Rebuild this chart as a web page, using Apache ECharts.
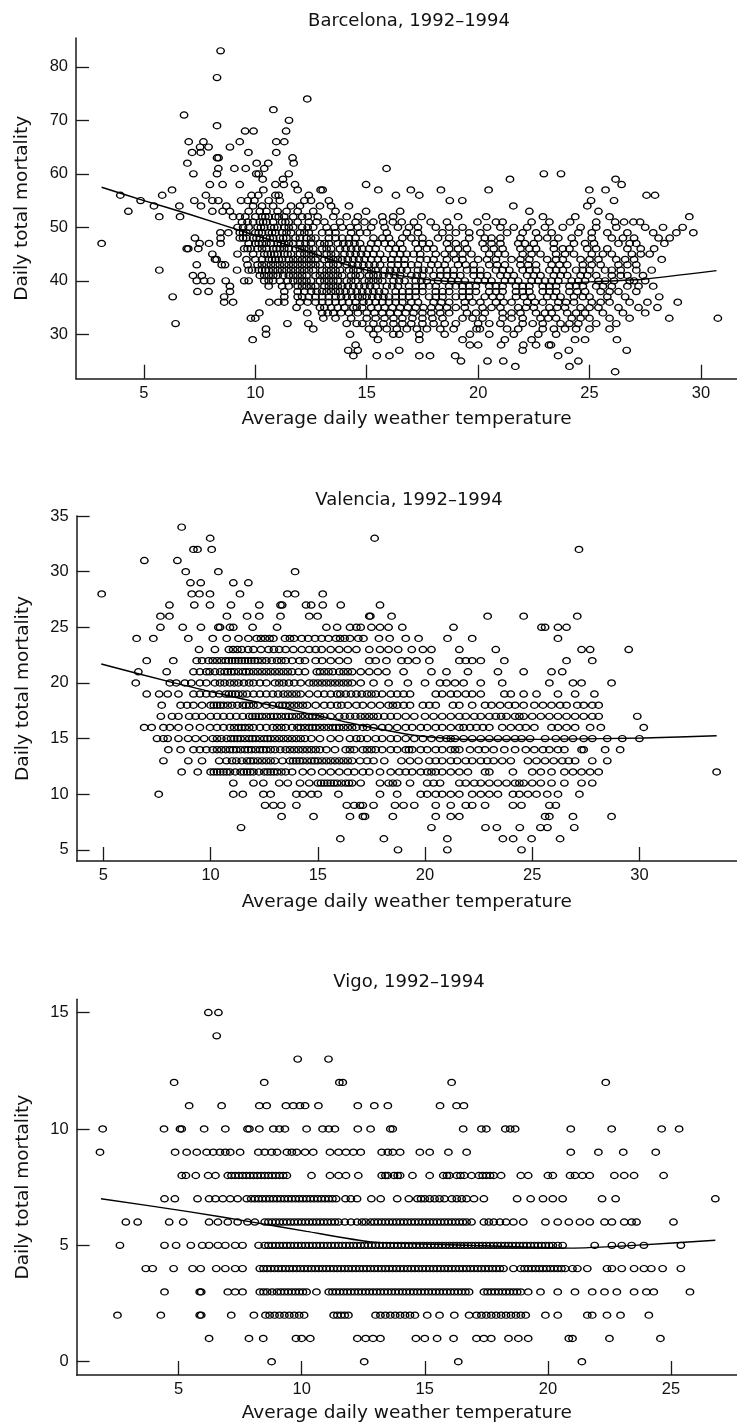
<!DOCTYPE html>
<html><head><meta charset="utf-8">
<script src="https://cdn.jsdelivr.net/npm/echarts@6/dist/echarts.min.js"></script>
<style>html,body{margin:0;padding:0;background:#fff}#c{width:737px;height:1425px}</style>
</head><body><div id="c"></div>
<script>
// ---------- titles / labels ----------
const panelTitles = ['Barcelona, 1992\u20131994', 'Valencia, 1992\u20131994', 'Vigo, 1992\u20131994'];
const xName = 'Average daily weather temperature';
const yName = 'Daily total mortality';

// ---------- tick labels ----------
const barcelonaXTicks = [5, 10, 15, 20, 25, 30];
const barcelonaYTicks = [30, 40, 50, 60, 70, 80];
const valenciaXTicks = [5, 10, 15, 20, 25, 30];
const valenciaYTicks = [5, 10, 15, 20, 25, 30, 35];
const vigoXTicks = [5, 10, 15, 20, 25];
const vigoYTicks = [0, 5, 10, 15];

// ---------- data: [daily deaths, [temperatures of the days with that count]] ----------
const barcelonaRows = [
 [83,[8.44]],[78,[8.28]],[74,[12.33]],[72,[10.81]],[71,[6.8]],[70,[11.51]],[69,[8.28]],
 [68,[9.54,9.92,11.38]],
 [66,[7.01,7.67,9.3,10.94,11.3]],
 [65,[7.52,7.9,8.86]],
 [64,[7.16,7.55,9.69,10.94]],
 [63,[8.28,8.35,11.67]],
 [62,[6.95,10.06,10.58,11.72]],
 [61,[8.34,9.06,9.57,10.4,15.89]],
 [60,[7.22,8.28,10.04,10.15,11.5,22.95,23.72]],
 [59,[10.33,11.24,21.43,26.17]],
 [58,[7.96,8.53,9.3,10.9,11.28,11.78,14.97,26.44]],
 [57,[6.26,10.36,11.9,12.93,13.02,15.52,16.98,18.33,20.47,24.99,25.72]],
 [56,[3.94,5.82,7.78,9.83,10.13,10.9,11.05,12.4,16.31,17.36,27.56,27.94]],
 [55,[4.85,7.26,8.07,8.34,9.36,9.66,9.96,10.6,11.1,12.2,12.5,13.3,18.73,19.29,25.07,26.1]],
 [54,[5.45,6.59,7.56,8.7,9.9,10.3,10.8,11.6,12.0,12.9,13.4,14.2,21.58,24.9]],
 [53,[4.3,8.07,8.53,8.86,9.7,10.2,10.5,11.0,11.4,11.9,12.6,13.6,14.97,16.5,22.3,25.4]],
 [52,[5.69,6.62,9.0,9.3,10.0,10.3,10.6,10.9,11.3,11.7,12.1,12.8,13.5,14.1,15.7,16.19,17.46,20.36,22.91,24.36,29.48,9.55,10.45,11.05,12.35,14.6,19.1,25.9]],
 [51,[9.4,9.9,10.2,10.5,10.8,11.2,11.5,11.9,12.4,13.1,13.8,14.5,15.3,15.74,16.17,16.57,17.12,17.87,19.97,21.1,22.4,24.13,26.15,26.55,26.97,27.27,9.65,10.35,11.35,12.75,14.9,18.6,20.8,23.2,25.3]],
 [50,[9.2,9.7,10.1,10.4,10.7,11.0,11.3,11.7,12.1,12.6,13.2,13.9,14.6,15.2,15.8,16.4,17.3,18.1,19.3,20.4,21.6,22.2,23.0,23.8,25.3,26.2,27.5,29.18,9.45,10.25,10.85,11.5,12.35,13.55,14.25,16.9,18.7,21.0,24.6,28.3]],
 [49,[8.43,8.79,9.3,9.6,10.0,10.3,10.6,10.9,11.2,11.6,12.0,12.4,13.0,13.6,14.3,15.0,15.9,16.8,18.4,19.0,20.1,21.3,22.0,23.3,24.5,25.8,26.7,27.86,29.66,9.45,10.15,10.75,11.4,12.2,13.3,14.7,17.3,19.6,22.6,25.1,28.9]],
 [48,[7.29,8.44,9.3,9.6,9.9,10.2,10.5,10.8,11.1,11.4,11.8,12.3,12.7,13.3,13.9,14.5,15.3,16.0,16.6,17.5,18.7,19.6,20.3,21.0,21.9,22.7,23.6,24.2,25.1,26.0,27.0,28.1,9.45,10.05,10.65,11.25,12.0,12.5,13.6,14.2,15.7,17.0,18.2,20.6,23.1,26.5,28.6]],
 [47,[3.1,7.5,7.92,8.44,10.0,10.3,10.7,11.0,11.3,11.7,12.0,12.5,12.9,13.3,13.7,14.2,14.7,15.2,15.8,16.5,17.2,17.8,18.6,19.4,20.2,21.0,21.8,22.5,23.4,24.3,25.2,26.3,27.1,28.36,9.7,10.15,10.5,11.15,11.5,12.25,13.1,13.95,14.45,15.5,16.1,17.5,19.0,20.6,22.1,24.8,26.8]],
 [46,[6.92,6.99,7.44,9.5,9.8,10.1,10.5,10.8,11.1,11.5,11.8,12.2,12.6,13.0,13.4,13.8,14.3,14.8,15.4,16.0,16.6,17.3,18.0,18.7,19.5,20.3,21.1,21.9,22.6,23.4,24.1,24.9,25.8,26.7,27.9,9.65,10.3,10.95,11.3,12.0,12.4,13.2,14.05,14.55,15.1,16.3,17.7,19.1,20.7,22.3,23.8,25.3,27.3]],
 [45,[8.07,9.2,10.4,10.7,11.0,11.3,11.6,12.0,12.4,12.8,13.2,13.6,14.0,14.5,15.0,15.6,16.2,16.8,17.4,18.1,18.9,19.7,20.5,21.2,22.0,22.8,23.5,24.3,25.1,26.0,26.9,27.7,9.9,10.55,10.85,11.45,12.2,12.6,13.4,14.25,14.75,15.3,16.5,17.1,18.5,19.3,20.9,22.4,23.9,25.6,27.3]],
 [44,[8.19,8.26,9.6,10.0,10.6,10.9,11.2,11.5,11.9,12.3,12.7,13.1,13.5,13.9,14.4,14.9,15.5,16.1,16.7,17.4,18.0,18.6,19.3,20.0,20.8,21.5,22.3,23.1,23.8,24.6,25.4,26.2,27.0,28.24,10.3,10.75,11.05,11.7,12.1,12.5,13.3,13.7,14.15,14.65,15.2,15.8,16.4,17.7,19.0,20.4,21.9,23.5,25.0,26.6]],
 [43,[7.37,8.49,8.64,9.65,10.1,10.5,10.9,11.3,11.7,12.1,12.5,12.9,13.3,13.7,14.1,14.6,15.1,15.6,16.1,16.7,17.3,17.9,18.5,19.1,19.8,20.5,21.2,21.9,22.6,23.3,24.0,24.7,25.5,26.3,27.1,10.3,10.7,11.1,11.5,11.9,12.3,12.7,13.5,14.35,14.85,15.35,16.4,17.0,18.2,19.45,20.85,22.25,23.65,25.1,26.7]],
 [42,[5.69,9.18,9.7,9.85,10.3,10.6,11.0,11.4,11.8,12.2,12.6,13.0,13.4,13.8,14.2,14.6,15.0,15.4,15.8,16.3,16.8,17.3,17.8,18.3,18.9,19.5,20.1,20.8,21.4,22.0,22.6,23.2,23.8,24.4,25.0,25.7,26.4,27.1,27.79,10.15,10.45,10.8,11.2,11.6,12.0,12.4,13.2,13.6,14.4,15.2,16.05,16.55,17.55,18.6,19.8,21.1,22.3,23.5,24.7,26.0]],
 [41,[7.2,7.6,10.2,10.6,11.0,11.5,11.9,12.3,12.7,13.1,13.5,13.9,14.3,14.7,15.1,15.5,16.0,16.5,17.0,17.5,18.0,18.6,19.2,19.8,20.4,21.0,21.6,22.2,22.8,23.4,24.0,24.6,25.3,26.0,26.7,27.4,10.4,10.8,11.25,11.7,12.1,12.9,13.3,13.7,14.5,15.3,15.75,16.25,17.25,18.3,18.9,20.1,21.3,22.5,23.7,24.9,26.4]],
 [40,[7.37,7.7,8.0,8.67,9.5,9.7,10.4,10.8,11.7,12.1,12.5,12.9,13.3,13.7,14.1,14.5,14.9,15.3,15.7,16.2,16.7,17.2,17.7,18.2,18.8,19.4,20.0,20.6,21.2,21.8,22.4,23.0,23.6,24.2,24.8,25.4,26.1,26.8,27.5,10.6,11.1,11.45,11.9,12.3,13.1,13.5,14.3,15.1,15.5,16.45,17.45,18.5,19.1,20.3,21.5,22.7,23.3,24.5,25.7,27.0]],
 [39,[8.86,10.6,11.2,11.9,12.3,12.7,13.1,13.5,13.9,14.4,14.9,15.4,15.9,16.4,16.9,17.5,18.1,18.7,19.3,19.9,20.5,21.1,21.7,22.3,22.9,23.5,24.1,24.7,25.3,26.0,26.7,27.86,11.5,12.1,12.5,13.3,13.7,14.15,14.65,15.15,16.15,17.2,17.8,19.0,19.6,20.8,22.0,23.2,24.4,25.6,27.2]],
 [38,[7.4,7.9,8.86,11.3,11.9,12.5,13.0,13.4,13.8,14.3,14.8,15.3,15.8,16.3,16.9,17.5,18.1,18.7,19.3,19.9,20.5,21.1,21.7,22.3,22.9,23.5,24.1,24.8,25.5,26.3,27.1,12.2,12.75,13.2,13.6,14.05,14.55,15.05,15.55,16.6,17.2,18.4,19.6,20.8,22.0,23.2,24.45,25.9]],
 [37,[6.29,8.6,11.3,11.9,12.4,13.0,13.6,14.1,14.6,15.0,15.5,16.0,16.6,17.2,17.8,18.4,19.0,19.6,20.3,21.0,21.7,22.4,23.1,23.7,24.3,25.0,25.8,26.6,28.13,12.1,12.7,13.3,13.85,14.35,14.8,15.25,15.75,16.3,16.9,18.1,19.3,20.65,22.05,23.4,24.7]],
 [36,[8.6,9.0,10.63,11.03,11.3,12.0,12.7,13.3,13.9,14.5,14.85,15.4,16.0,16.6,17.3,18.0,18.7,19.4,20.1,20.8,21.5,22.2,22.9,23.6,24.3,25.1,25.9,26.8,27.6,28.96,12.35,13.0,13.6,14.2,15.1,15.7,16.3,17.0,18.35,19.75,21.15,22.55,23.95,25.5]],
 [35,[11.85,12.9,13.1,13.7,14.4,14.55,15.2,15.8,16.5,17.2,17.9,18.6,19.4,20.2,21.0,21.8,22.5,23.2,23.9,24.6,25.4,26.3,27.2,28.05,13.4,14.0,14.8,15.5,16.15,16.85,17.55,18.25,19.0,20.6,22.15,23.55,25.0]],
 [34,[10.18,12.33,13.0,13.5,14.2,15.0,15.7,16.4,17.1,17.9,18.7,19.5,20.3,21.1,21.9,22.6,23.3,24.0,24.8,25.6,26.5,27.5,13.25,13.85,14.6,15.35,16.05,16.75,17.5,18.3,19.9,21.5,23.0,24.4]],
 [33,[9.8,10.0,13.05,13.6,15.0,15.8,16.6,17.5,18.4,19.3,20.2,21.1,22.0,22.8,23.5,24.2,25.0,25.9,26.8,28.58,30.76,14.3,15.4,16.2,17.05,17.95,19.75,21.5,23.15,24.6]],
 [32,[6.42,11.44,12.38,14.1,14.55,15.3,16.2,17.0,18.0,19.0,20.0,21.0,22.0,22.9,23.7,24.5,25.3,26.2,14.8,15.75,16.6,17.5,18.5,20.5,22.45,24.1]],
 [31,[10.48,12.6,15.1,15.9,16.8,17.7,18.9,19.93,20.08,21.8,22.9,23.9,25.0,25.9,15.5,16.35,17.25,18.3,21.3,23.4,24.4]],
 [30,[10.48,14.25,15.3,16.19,16.46,17.36,18.5,19.63,20.5,21.6,22.7,23.5]],
 [29,[9.88,15.5,17.36,19.3,21.2,22.4,24.35,24.8,26.23]],
 [28,[14.5,19.63,20.0,21.03,22.03,22.6,23.18,23.27]],
 [27,[14.17,14.6,16.46,22.0,24.07,26.67]],
 [26,[14.4,15.45,16.02,17.36,17.84,18.97,23.59]],
 [25,[19.23,20.42,21.13,24.5]],
 [24,[21.67,24.1]],
 [23,[26.15]]
];
const barcelonaTrend = [[3.1,57.5],[5,55],[7,52.5],[9.7,48.9],[12,46],[13.5,43.8],[15,42],[18,40.1],[20,39.7],[23.6,39.5],[25,39.8],[27.4,40.3],[30.7,41.9]];

const valenciaRows = [
 [34,[8.65]],
 [33,[9.98,17.65]],
 [32,[9.2,9.39,10.05,27.18]],
 [31,[6.91,8.45]],
 [30,[8.84,10.36,13.94]],
 [29,[9.06,9.54,11.06,11.76]],
 [28,[4.92,9.12,9.48,9.97,11.37,13.58,13.94,15.23]],
 [27,[8.08,9.24,9.97,10.95,12.27,13.26,13.34,14.45,14.69,15.23,16.07,17.9]],
 [26,[7.66,8.08,10.76,11.7,12.27,13.26,14.6,14.99,17.4,17.45,18.44,22.92,24.6,27.1]],
 [25,[7.66,8.7,9.55,10.36,10.44,10.9,11.06,11.96,13.1,15.4,15.9,16.5,16.8,17.0,17.5,17.9,18.3,18.94,21.33,25.43,25.6,26.2,26.6]],
 [24,[6.55,7.33,8.96,10.75,11.76,12.15,12.54,12.93,13.47,13.89,14.25,14.87,15.18,15.85,16.04,16.5,16.89,17.13,17.85,18.35,21.05,22.2,26.2,10.1,11.3,12.35,12.75,13.7,14.55,15.5,16.25,19.1,19.7]],
 [23,[9.46,10.85,11.05,11.45,12.0,12.7,13.2,13.86,14.25,15.18,16.4,17.4,17.9,18.75,19.38,19.9,20.3,21.6,23.3,27.3,27.7,29.5,10.2,11.25,11.75,12.35,12.95,13.5,14.6,14.9,15.6,16.0,16.8,18.3]],
 [22,[7.02,8.26,9.35,9.6,9.9,10.3,10.7,11.0,11.3,11.6,11.9,12.2,12.6,13.1,13.5,14.4,14.9,16.4,17.4,17.7,18.2,18.9,19.2,20.2,21.6,21.9,22.2,22.6,23.7,26.6,27.8,10.1,10.5,10.85,11.15,11.45,11.75,12.05,12.4,12.85,13.3,13.8,14.15,15.2,15.6,16.0,19.6]],
 [21,[6.63,7.95,9.2,9.5,9.8,10.45,10.8,11.1,11.5,11.8,12.2,12.6,13.0,13.4,13.8,14.1,14.95,15.3,15.7,16.2,16.6,17.0,17.4,17.8,18.2,20.3,21.0,23.4,24.6,25.9,26.4,9.95,10.2,10.65,10.95,11.3,11.65,12.0,12.4,12.8,13.2,13.6,14.4,15.1,15.5,16.0,16.4,19.0,22.0]],
 [20,[6.51,8.1,8.4,8.8,9.1,9.5,10.44,10.9,11.3,11.8,12.6,13.0,13.4,13.9,14.6,15.0,15.4,15.8,16.2,16.6,17.0,17.6,20.0,20.7,21.0,21.4,21.8,25.8,26.9,27.3,28.7,9.8,10.2,10.65,11.1,11.55,12.0,12.3,13.2,13.65,14.2,14.8,15.2,15.6,16.0,16.4,18.3,19.2,22.6,23.6]],
 [19,[7.02,7.6,8.0,8.5,9.5,9.8,10.7,11.0,11.3,11.7,12.3,12.9,13.4,13.8,14.2,15.3,15.9,16.3,16.8,17.3,17.7,18.0,18.4,18.7,19.0,19.3,20.5,20.8,21.2,21.5,21.9,22.2,23.7,24.0,24.6,26.2,27.0,27.9,9.2,10.1,10.4,10.85,11.15,11.5,12.0,12.6,13.15,13.6,14.0,14.6,15.0,15.6,16.05,16.55,17.05,17.5,22.6,25.2]],
 [18,[7.72,8.6,8.9,10.0,10.3,10.6,11.0,11.5,11.8,12.2,13.2,13.5,13.9,14.3,14.5,15.6,16.1,16.8,17.1,17.9,18.3,18.7,19.0,19.3,19.9,20.5,21.3,21.6,22.8,23.1,23.5,23.9,24.6,25.1,25.5,25.9,26.3,26.6,27.1,27.4,27.8,28.1,9.2,9.6,10.15,10.45,10.8,11.25,11.65,12.0,12.6,12.9,13.35,13.7,14.1,14.9,15.3,15.9,16.4,17.5,18.5,20.2,22.2,24.2]],
 [17,[7.68,8.2,8.5,9.0,9.3,9.6,10.3,10.6,11.8,12.1,12.4,12.8,13.1,13.5,13.8,14.2,14.6,14.9,15.3,16.0,16.5,17.0,17.4,17.8,18.1,18.4,18.7,19.1,19.5,20.4,20.8,21.2,21.6,21.9,22.3,22.6,23.0,23.3,23.8,24.2,24.6,25.0,25.4,25.8,26.2,26.6,27.0,27.4,27.8,28.1,29.9,10.0,10.9,11.2,11.5,11.95,12.25,12.6,12.95,13.3,13.65,14.0,14.4,14.75,15.1,15.6,16.25,16.75,17.2,17.6,20.0,23.55,24.4]],
 [16,[6.9,7.25,7.8,8.1,8.5,9.0,9.97,10.9,11.3,11.6,12.0,13.1,13.5,14.2,14.6,14.9,15.3,15.7,16.0,16.4,16.8,17.1,17.3,17.6,18.0,18.3,18.7,19.1,19.8,20.1,20.5,20.8,21.2,21.6,21.8,22.1,22.4,23.0,23.6,24.0,24.4,25.1,25.9,26.2,26.6,27.0,27.7,28.2,30.2,9.5,10.3,10.6,11.1,11.45,11.8,12.3,12.6,12.9,13.3,13.8,14.05,14.4,14.75,15.1,15.5,15.85,16.2,16.6,19.4,22.7,24.7]],
 [15,[7.5,7.8,8.0,8.5,8.95,10.1,10.5,11.1,11.4,11.8,12.1,12.5,12.8,13.2,13.6,14.0,14.4,15.6,16.5,17.0,17.3,17.7,18.0,18.4,19.1,19.5,19.9,20.3,20.7,21.0,21.4,21.8,22.2,22.6,23.0,23.4,23.8,24.2,24.9,25.6,26.1,26.5,26.9,27.4,27.8,28.5,29.2,30.0,9.3,9.7,10.3,10.75,10.95,11.25,11.6,11.95,12.3,12.65,13.0,13.4,13.8,14.2,14.7,15.1,16.0,16.8,18.7,21.2,24.5]],
 [14,[8.03,8.6,9.2,9.5,10.1,10.5,10.9,11.2,11.6,11.9,12.3,12.6,13.0,13.5,13.9,14.3,14.7,15.1,15.4,16.3,16.7,17.1,17.3,17.7,18.0,18.4,18.7,19.1,19.4,19.8,20.1,20.5,20.8,21.2,21.6,22.1,22.5,22.8,23.2,24.2,24.7,25.1,25.5,25.8,26.2,26.5,27.3,27.4,28.4,29.1,9.8,10.3,10.7,11.05,11.4,11.75,12.1,12.45,12.8,13.25,13.7,14.1,14.5,14.9,15.8,16.5,17.5,19.25,21.4,23.7]],
 [13,[7.8,8.96,10.74,11.2,11.7,12.0,12.4,12.8,13.7,14.0,14.3,14.7,15.0,15.4,15.8,16.2,16.6,16.97,17.3,17.6,18.9,19.3,19.7,20.5,20.8,21.2,21.5,21.9,22.2,22.6,22.9,23.2,24.0,24.8,25.2,25.6,26.0,26.4,26.7,27.0,27.8,28.5,9.6,10.4,11.0,11.45,11.85,12.2,12.6,13.0,13.35,13.85,14.15,14.5,14.85,15.2,15.6,16.0,16.4,18.1,20.2,23.6]],
 [12,[8.65,10.0,10.3,10.6,10.9,11.4,11.7,12.0,12.5,12.8,13.1,13.5,14.3,15.2,16.0,16.7,17.1,17.4,17.9,18.4,19.1,19.4,19.8,20.1,20.5,20.8,21.2,21.6,22.0,22.8,23.0,24.1,25.0,25.4,25.9,26.5,26.9,27.3,27.7,28.1,33.6,9.4,10.15,10.45,10.75,11.15,11.55,11.85,12.25,12.65,12.95,13.3,13.8,14.7,15.6,16.4,18.8,20.3]],
 [11,[11.06,12.46,14.17,15.0,15.3,15.6,15.9,16.3,16.6,17.0,17.9,18.3,18.7,19.3,20.1,20.7,21.6,21.9,22.3,22.6,23.0,23.4,23.8,24.2,24.6,25.0,25.4,25.9,26.5,27.3,27.8,12.0,13.2,13.6,14.6,15.15,15.45,15.75,16.1,16.45,18.5,20.4,24.4]],
 [10,[7.58,11.06,11.5,12.46,12.8,14.0,14.3,14.7,15.0,15.96,17.9,18.7,19.8,20.1,20.5,20.8,21.2,21.6,22.2,22.6,23.0,23.4,24.1,24.4,24.8,25.2,25.7,26.2,27.2]],
 [9,[12.54,12.93,13.3,14.0,16.35,16.7,16.97,17.1,17.6,18.6,19.0,19.5,20.5,21.2,21.9,22.2,22.8,24.1,24.5,25.8,26.1]],
 [8,[13.31,14.8,16.5,17.1,17.2,18.5,20.5,21.2,21.6,25.6,25.8,26.9,28.7]],
 [7,[11.42,20.3,22.82,23.35,24.42,25.38,25.71,26.96]],
 [6,[16.05,18.08,21.04,23.63,24.11,24.97,26.3]],
 [5,[18.74,21.04,24.5]]
];
const valenciaTrend = [[4.9,21.7],[8.3,20.0],[11.4,18.6],[14.2,17.4],[17.0,16.2],[19.5,15.3],[22.1,14.9],[26.3,14.95],[30.2,15.05],[33.6,15.25]];

const vigoRows = [
 [15,[6.21,6.62]],
 [14,[6.55]],
 [13,[9.84,11.09]],
 [12,[4.82,8.48,11.53,11.67,16.09,22.35]],
 [11,[5.43,6.75,8.28,8.58,9.36,9.66,9.93,10.14,10.68,12.28,12.95,13.5,15.62,16.29,16.59]],
 [10,[1.92,4.41,5.06,5.13,6.04,6.9,7.8,7.88,8.28,8.85,9.1,9.32,10.2,10.85,11.1,11.35,12.28,12.8,13.6,13.7,16.56,17.3,17.5,18.27,18.47,18.67,20.93,22.59,24.62,25.33]],
 [9,[1.81,4.86,5.33,5.74,6.14,6.41,6.68,6.9,7.1,7.5,8.24,8.5,8.78,9.0,9.4,9.6,9.8,10.14,10.47,11.15,11.5,11.8,12.1,12.4,13.25,13.5,13.7,14.0,14.8,15.2,15.96,16.7,20.93,22.05,23.06,24.38]],
 [8,[5.13,5.3,5.7,6.2,6.5,7.0,7.3,7.6,7.9,8.2,8.5,8.8,9.1,9.4,10.4,11.15,11.5,11.8,12.3,13.25,13.5,13.75,14.0,14.5,15.2,15.75,16.0,16.3,16.6,16.9,17.2,17.5,17.8,18.1,18.9,19.2,20.0,20.2,20.9,21.1,21.4,21.7,22.7,23.1,23.5,24.7,7.15,7.45,7.75,8.05,8.35,8.65,8.95,9.25,13.4,13.9,15.9,16.45,17.35,17.65]],
 [7,[4.43,4.85,5.77,6.24,6.5,6.8,7.1,7.4,7.77,8.1,8.4,8.7,9.0,9.3,9.6,9.9,10.2,10.5,10.8,11.1,11.4,11.78,12.25,12.83,13.21,13.88,14.35,14.7,15.0,15.4,15.8,16.1,16.5,17.0,17.4,18.75,19.3,19.8,20.2,20.6,22.2,22.75,26.8,7.95,8.25,8.55,8.85,9.15,9.45,9.75,10.05,10.35,10.65,10.95,11.25,12.0,14.85,15.2,15.6,16.3,16.7]],
 [6,[2.86,3.34,4.62,5.19,6.24,6.6,7.0,7.4,7.8,8.1,8.5,8.8,9.1,9.4,9.7,10.0,10.3,10.6,10.9,11.2,11.5,12.0,12.45,12.8,13.1,13.4,13.7,14.0,14.3,14.6,14.9,15.2,15.5,15.8,16.1,16.4,16.7,16.9,17.4,17.8,18.3,18.6,19.0,19.9,20.4,20.85,21.3,21.7,22.3,22.6,23.1,23.4,23.6,25.1,8.65,8.95,9.25,9.55,9.85,10.15,10.45,10.75,11.05,11.35,11.75,12.25,12.6,12.95,13.25,13.55,13.85,14.15,14.45,14.75,15.05,15.35,15.65,15.95,16.25,16.55,17.6,18.05]],
 [5,[2.62,4.43,4.9,5.5,5.96,6.24,6.6,6.9,7.3,7.6,8.25,8.5,8.8,9.1,9.4,9.7,10.0,10.3,10.6,10.9,11.2,11.5,11.8,12.1,12.4,12.7,13.0,13.3,13.6,13.9,14.2,14.5,14.8,15.1,15.4,15.7,16.0,16.3,16.6,16.9,17.2,17.5,17.8,18.1,18.4,18.7,19.0,19.3,19.6,19.9,20.2,20.6,21.9,22.6,23.0,23.4,23.9,25.4,8.65,8.95,9.25,9.55,9.85,10.15,10.45,10.75,11.05,11.35,11.65,11.95,12.25,12.55,12.85,13.15,13.45,13.75,14.05,14.35,14.65,14.95,15.25,15.55,15.85,16.15,16.45,16.75,17.05,17.35,17.65,17.95,18.25,18.55,18.85,19.15,19.45,19.75,20.05,20.4]],
 [4,[3.67,3.95,4.8,5.57,5.9,6.53,6.9,7.3,7.6,8.3,8.6,8.9,9.2,9.5,9.8,10.1,10.4,10.7,11.0,11.3,11.6,11.9,12.2,12.5,12.8,13.1,13.4,13.7,14.0,14.3,14.6,14.9,15.2,15.5,15.8,16.1,16.4,16.7,17.0,17.3,17.6,17.9,18.2,18.6,18.9,19.2,19.5,19.8,20.1,20.4,20.7,21.0,21.2,21.6,22.4,22.6,23.0,23.5,23.9,24.2,24.66,25.4,8.45,8.75,9.05,9.35,9.65,9.95,10.25,10.55,10.85,11.15,11.45,11.75,12.05,12.35,12.65,12.95,13.25,13.55,13.85,14.15,14.45,14.75,15.05,15.35,15.65,15.95,16.25,16.55,16.85,17.15,17.45,17.75,18.05,19.05,19.35,19.65,19.95,20.25,20.55]],
 [3,[4.43,5.86,5.92,7.0,7.3,7.6,8.3,8.6,9.0,9.3,9.6,9.9,10.2,10.6,11.1,11.4,11.7,12.0,12.3,12.6,12.9,13.2,13.5,13.8,14.1,14.4,14.7,15.0,15.3,15.6,15.9,16.2,16.5,16.8,17.4,17.7,18.0,18.3,18.6,18.9,19.2,19.7,20.4,21.1,21.8,22.3,22.8,23.5,24.0,24.3,25.77,8.45,8.8,9.15,9.45,9.75,10.05,11.25,11.55,11.85,12.15,12.45,12.75,13.05,13.35,13.65,13.95,14.25,14.55,14.85,15.15,15.45,15.75,16.05,16.35,16.65,17.55,17.85,18.15,18.45,18.75]],
 [2,[2.52,4.28,5.86,5.92,7.14,8.06,8.53,8.9,9.3,9.7,10.1,11.3,11.6,11.9,13.0,13.4,13.8,14.2,14.6,15.1,15.6,16.2,16.8,17.1,17.5,17.9,18.3,18.7,19.1,19.9,20.4,21.6,21.8,22.4,22.95,24.1,8.7,9.1,9.5,9.9,11.45,11.75,13.2,13.6,14.0,14.4,17.3,17.7,18.1,18.5,18.9]],
 [1,[6.24,7.86,8.44,9.77,10.0,10.35,12.26,12.6,12.9,13.2,14.64,15.0,15.5,16.17,17.1,17.4,17.7,18.4,18.8,19.2,20.85,21.0,22.5,24.57]],
 [0,[8.78,12.54,16.36,21.38]]
];
const vigoTrend = [[1.85,7.0],[5.4,6.45],[8.0,6.0],[10.2,5.6],[12.8,5.15],[16.8,5.0],[20.9,4.88],[23.5,5.0],[26.8,5.22]];

// ---------- build ----------
function toPoints(rows) {
  const out = [];
  rows.forEach(function (r) { r[1].forEach(function (x) { out.push([x, r[0]]); }); });
  return out;
}
const TICK_FONT = 'Liberation Sans, Arial, sans-serif';
const NAME_FONT = 'DejaVu Sans, sans-serif';

const panels = [
  { title: panelTitles[0], rows: barcelonaRows, trend: barcelonaTrend, xTicks: barcelonaXTicks, yTicks: barcelonaYTicks,
    grid: { left: 76, top: 38, width: 661, height: 340.7 }, xMin: 1.95, xMax: 31.62, yMin: 21.7, yMax: 85.4, titleY: 21.7, xGap: 31 },
  { title: panelTitles[1], rows: valenciaRows, trend: valenciaTrend, xTicks: valenciaXTicks, yTicks: valenciaYTicks,
    grid: { left: 76.6, top: 516, width: 660.4, height: 345 }, xMin: 3.75, xMax: 34.55, yMin: 4.0, yMax: 35, titleY: 500, xGap: 32 },
  { title: panelTitles[2], rows: vigoRows, trend: vigoTrend, xTicks: vigoXTicks, yTicks: vigoYTicks,
    grid: { left: 76.6, top: 999.3, width: 660.4, height: 375.7 }, xMin: 0.86, xMax: 27.68, yMin: -0.57, yMax: 15.57, titleY: 982.7, xGap: 29 }
];

const axisLine = { show: true, onZero: false, lineStyle: { color: '#1a1a1a', width: 1.5 } };
const option = {
  animation: false,
  backgroundColor: '#fff',
  grid: panels.map(function (p) { return Object.assign({ outerBoundsMode: 'none', containLabel: false }, p.grid); }),
  xAxis: panels.map(function (p, i) {
    return {
      type: 'value', gridIndex: i, min: p.xMin, max: p.xMax,
      axisLine: axisLine,
      axisTick: { show: true, inside: true, length: 14, customValues: p.xTicks, lineStyle: { color: '#1a1a1a', width: 1.3 } },
      axisLabel: { customValues: p.xTicks, color: '#111', fontSize: 16.5, fontFamily: TICK_FONT, margin: 6 },
      splitLine: { show: false },
      name: xName, nameLocation: 'middle', nameGap: p.xGap,
      nameTextStyle: { color: '#111', fontSize: 18.5, fontFamily: NAME_FONT }
    };
  }),
  yAxis: panels.map(function (p, i) {
    return {
      type: 'value', gridIndex: i, min: p.yMin, max: p.yMax,
      axisLine: axisLine,
      axisTick: { show: true, inside: true, length: 13, customValues: p.yTicks, lineStyle: { color: '#1a1a1a', width: 1.3 } },
      axisLabel: { customValues: p.yTicks, color: '#111', fontSize: 16.5, fontFamily: TICK_FONT, margin: 8 },
      splitLine: { show: false },
      name: yName, nameLocation: 'middle', nameGap: 44,
      nameTextStyle: { color: '#111', fontSize: 18.5, fontFamily: NAME_FONT }
    };
  }),
  graphic: panels.map(function (p) {
    return { type: 'text', x: 409, y: p.titleY, silent: true,
      style: { text: p.title, fill: '#111', font: '18px ' + NAME_FONT,
        align: 'center', verticalAlign: 'middle', textAlign: 'center', textVerticalAlign: 'middle' } };
  }),
  series: []
};
panels.forEach(function (p, i) {
  option.series.push({
    type: 'scatter', xAxisIndex: i, yAxisIndex: i, data: toPoints(p.rows),
    symbol: 'circle', symbolSize: [7.4, 6.2], silent: true, large: false,
    itemStyle: { color: 'rgba(0,0,0,0)', borderColor: '#000', borderWidth: 1.3, opacity: 1 }
  });
  option.series.push({
    type: 'line', xAxisIndex: i, yAxisIndex: i, data: p.trend, showSymbol: false, symbol: 'none',
    smooth: 0.2, silent: true, z: 3,
    lineStyle: { color: '#000', width: 1.4 }
  });
});
const chart = echarts.init(document.getElementById('c'), null, { renderer: 'canvas' });
chart.setOption(option);
</script>
</body></html>
